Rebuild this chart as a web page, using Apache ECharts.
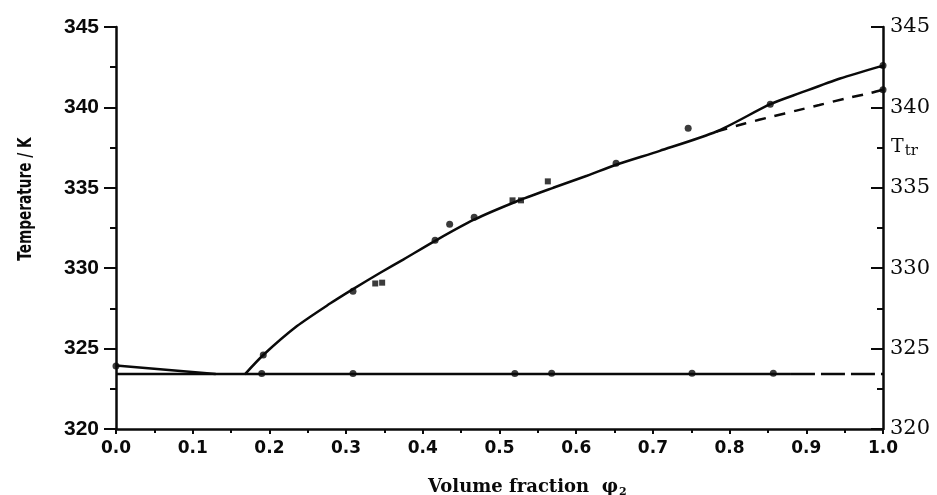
<!DOCTYPE html>
<html>
<head>
<meta charset="utf-8">
<script src="https://cdn.jsdelivr.net/npm/echarts@6/dist/echarts.min.js"></script>
<style>
  html, body { margin: 0; padding: 0; background: #fff; }
  #chart { width: 937px; height: 495px; }
</style>
</head>
<body>
<div id="chart"></div>
<script>
// Liquidus (solid curve) of the phase diagram: volume fraction vs temperature / K
const liquidusPhi = [0.168, 0.192, 0.236, 0.279, 0.309, 0.344, 0.375, 0.416, 0.466, 0.522, 0.570, 0.614, 0.653, 0.709, 0.783, 0.853, 0.892, 0.944, 1.0];
const liquidusT   = [323.4, 324.6, 326.4, 327.8, 328.7, 329.7, 330.55, 331.7, 333.0, 334.15, 335.0, 335.75, 336.45, 337.3, 338.5, 340.2, 340.9, 341.8, 342.6];

// Dashed branch towards T_tr of the pure component
const dashedPhi = [0.783, 0.820, 0.857, 0.887, 0.917, 0.951, 0.984, 1.0];
const dashedT   = [338.5, 339.0, 339.45, 339.8, 340.15, 340.55, 340.9, 341.1];

// Eutectic horizontal and the short sloped branch on the left
const eutecticT = 323.42;
const eutecticSolidPhi = [0.0, 0.88];
const eutecticDashPhi = [0.88, 1.0];
const leftBranchPhi = [0.0, 0.13];
const leftBranchT   = [323.95, 323.42];

// Measured points
const circlePhi = [0.192, 0.309, 0.416, 0.435, 0.467, 0.652, 0.746, 0.853, 1.0, 1.0];
const circleT   = [324.6, 328.57, 331.74, 332.73, 333.17, 336.52, 338.7, 340.19, 342.6, 341.1];
const squarePhi = [0.338, 0.347, 0.517, 0.528, 0.563];
const squareT   = [329.05, 329.1, 334.22, 334.22, 335.4];
const lowerPhi  = [0.0, 0.19, 0.309, 0.52, 0.568, 0.751, 0.857];
const lowerT    = [323.92, 323.45, 323.45, 323.45, 323.47, 323.47, 323.47];

// Axis settings
const xTickStep = 0.1;
const yMin = 320, yMax = 345, yTickStep = 5;

const pair = (xs, ys) => xs.map((x, i) => [x, ys[i]]);
const flat = (xs, t) => xs.map(x => [x, t]);

const ink = '#0a0a0a';
const chart = echarts.init(document.getElementById('chart'), null, { renderer: 'canvas' });

const yAxisCommon = {
  type: 'value', min: yMin, max: yMax, interval: yTickStep,
  splitLine: { show: false },
  axisLine: { show: true, onZero: false, lineStyle: { color: ink, width: 2.5 } },
  minorTick: { show: true, splitNumber: 2, length: 6, lineStyle: { color: ink, width: 2 } },
  minorSplitLine: { show: false }
};

chart.setOption({
  animation: false,
  backgroundColor: '#fff',
  grid: { left: 116, right: 54, top: 27, bottom: 66 },
  xAxis: {
    type: 'value', min: 0, max: 1, interval: xTickStep,
    splitLine: { show: false },
    axisLine: { onZero: false, lineStyle: { color: ink, width: 2.5 } },
    axisTick: { length: 5, lineStyle: { color: ink, width: 2 } },
    minorTick: { show: true, splitNumber: 2, length: 4, lineStyle: { color: ink, width: 2 } },
    axisLabel: {
      margin: 11, color: ink,
      fontFamily: '"DejaVu Sans", sans-serif', fontWeight: 'bold', fontSize: 17,
      formatter: v => v.toFixed(1)
    }
  },
  yAxis: [
    Object.assign({}, yAxisCommon, {
      position: 'left',
      axisTick: { length: 12, lineStyle: { color: ink, width: 2 } },
      axisLabel: {
        margin: 17, color: ink,
        fontFamily: '"Liberation Sans", Arial, sans-serif', fontWeight: 'bold', fontSize: 21
      }
    }),
    Object.assign({}, yAxisCommon, {
      position: 'right',
      axisTick: { inside: true, length: 12, lineStyle: { color: ink, width: 2 } },
      axisLabel: {
        margin: 7, color: ink,
        fontFamily: '"DejaVu Serif", serif', fontSize: 21
      }
    })
  ],
  graphic: [
    {
      type: 'text', x: 26, y: 199, rotation: Math.PI / 2, scaleX: 0.76,
      style: {
        text: 'Temperature / K', fill: ink, align: 'center', verticalAlign: 'middle',
        font: 'bold 20px "DejaVu Sans Condensed", "DejaVu Sans", sans-serif'
      }
    },
    {
      type: 'text', x: 428, y: 487,
      style: {
        text: 'Volume fraction  {p|φ}{s|2}', fill: ink, align: 'left', verticalAlign: 'middle',
        font: 'bold 18px "DejaVu Serif", serif',
        rich: {
          p: { font: 'bold 18px "DejaVu Serif", serif', fill: ink },
          s: { font: 'bold 11px "DejaVu Serif", serif', fill: ink, padding: [10, 0, 0, 1] }
        }
      }
    },
    {
      type: 'text', x: 891, y: 147,
      style: {
        text: '{t|T}{s|tr}', fill: ink, align: 'left', verticalAlign: 'middle',
        rich: {
          t: { font: '19px "DejaVu Serif", serif', fill: ink },
          s: { font: '15px "DejaVu Serif", serif', fill: ink, padding: [8, 0, 0, 1] }
        }
      }
    }
  ],
  series: [
    {
      type: 'line', name: 'liquidus', data: pair(liquidusPhi, liquidusT),
      smooth: 0.25, showSymbol: false, lineStyle: { color: ink, width: 2.5 }
    },
    {
      type: 'line', name: 'liquidus-dashed', data: pair(dashedPhi, dashedT),
      smooth: 0.25, showSymbol: false, lineStyle: { color: ink, width: 2.5, type: [11, 9] }
    },
    {
      type: 'line', name: 'eutectic', data: flat(eutecticSolidPhi, eutecticT),
      showSymbol: false, lineStyle: { color: ink, width: 2.5 }
    },
    {
      type: 'line', name: 'eutectic-dashed', data: flat(eutecticDashPhi, eutecticT),
      showSymbol: false, lineStyle: { color: ink, width: 2.5, type: [24, 6] }
    },
    {
      type: 'line', name: 'left-branch', data: pair(leftBranchPhi, leftBranchT),
      showSymbol: false, lineStyle: { color: ink, width: 2.5 }
    },
    {
      type: 'scatter', name: 'points', data: pair(circlePhi, circleT),
      symbol: 'circle', symbolSize: 7, itemStyle: { color: ink }
    },
    {
      type: 'scatter', name: 'points-sq', data: pair(squarePhi, squareT),
      symbol: 'rect', symbolSize: 6, itemStyle: { color: ink }
    },
    {
      type: 'scatter', name: 'points-low', data: pair(lowerPhi, lowerT),
      symbol: 'circle', symbolSize: 7, itemStyle: { color: ink }
    }
  ]
});
</script>
</body>
</html>
